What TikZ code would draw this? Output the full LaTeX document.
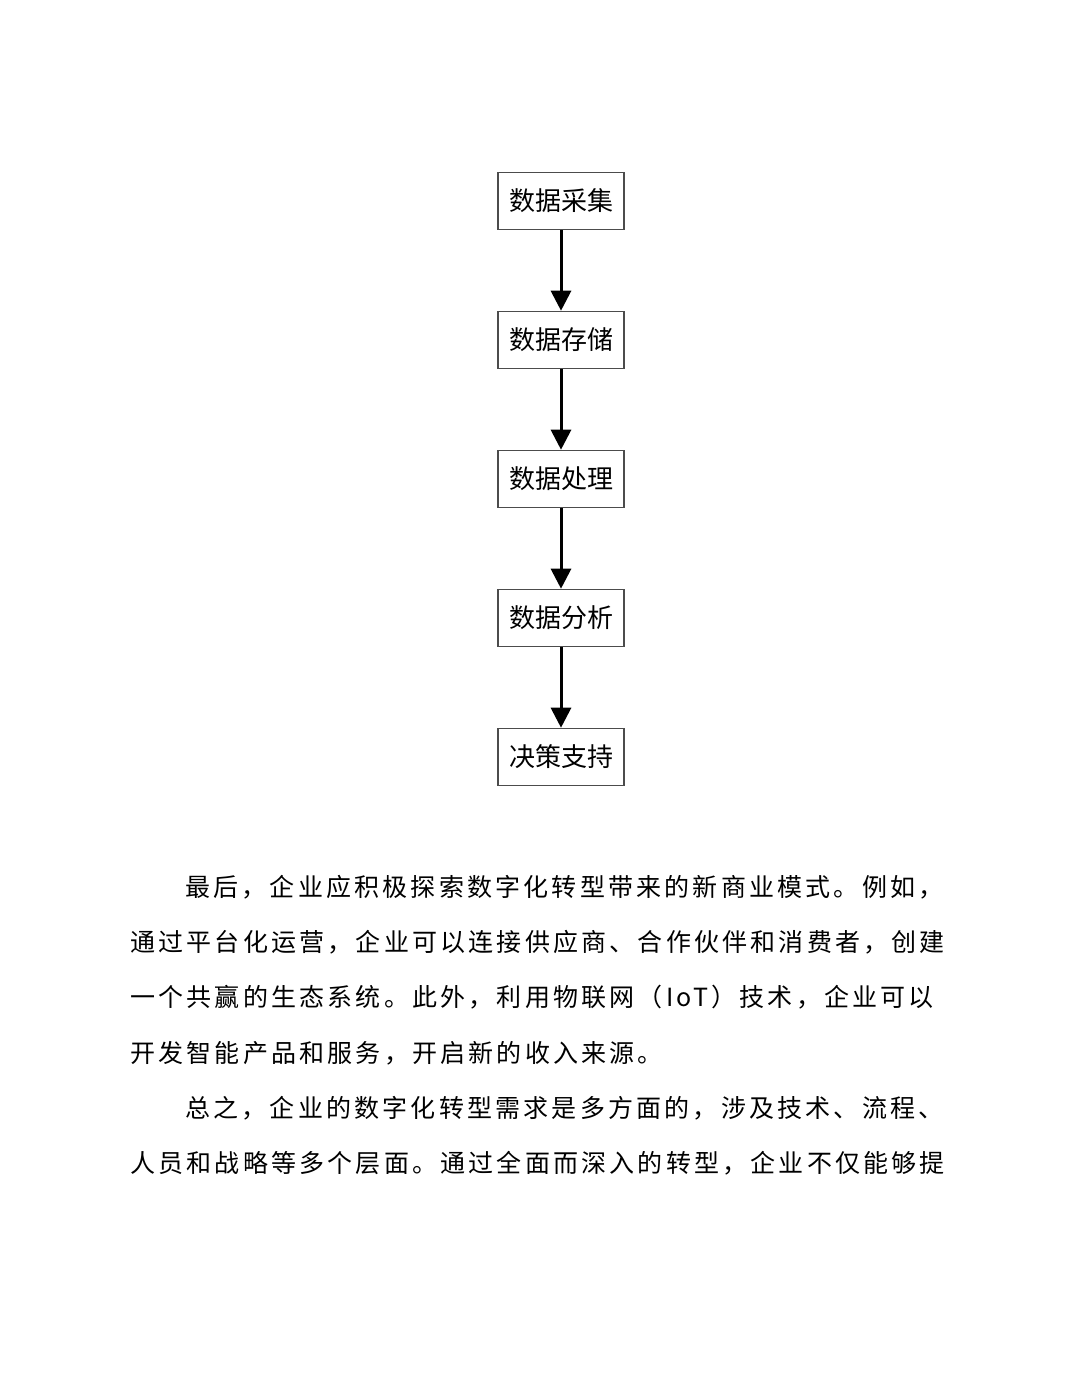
\documentclass[tikz,border=0pt]{standalone}
\usepackage{fontspec}
\newfontfamily\cjk{Noto Sans CJK SC}
\newfontfamily\cjkbody[LetterSpace=12.8]{Noto Sans CJK SC}
\usepackage{tikz}
\usetikzlibrary{positioning,arrows.meta}
\tikzset{stepbox/.style={draw=black!70,line width=1.6pt,fill=white,minimum width=126pt,minimum height=57pt,inner sep=0pt,font=\cjk\fontsize{26}{26}\selectfont}}
\tikzset{flow/.style={-{Triangle[width=20pt,length=20pt]},line width=3pt}}
\tikzset{para/.style={anchor=west,inner sep=0pt,font=\cjkbody\fontsize{25}{25}\selectfont}}

\begin{document}
\begin{tikzpicture}[x=1pt,y=-1pt,node distance=80.4pt]
  \useasboundingbox[fill=white] (0,0) rectangle (1080,1397);
  % flow chart
  \node[stepbox] (collect) at (561,201) {数据采集};
  \node[stepbox,below=of collect] (store) {数据存储};
  \node[stepbox,below=of store] (process) {数据处理};
  \node[stepbox,below=of process] (analyse) {数据分析};
  \node[stepbox,below=of analyse] (decide) {决策支持};
        \foreach \a/\b in {collect/store,store/process,process/analyse,analyse/decide}
          \draw[flow] (\a) -- (\b);
  % text below
  \node[para] (l1) at (185,887) {最后，企业应积极探索数字化转型带来的新商业模式。例如，};
  \node[para] (l2) at (130,942) {通过平台化运营，企业可以连接供应商、合作伙伴和消费者，创建};
  \node[para] (l3) at (130,997) {一个共赢的生态系统。此外，利用物联网（IoT）技术，企业可以};
  \node[para] (l4) at (130,1053) {开发智能产品和服务，开启新的收入来源。};
  \node[para] (l5) at (185,1108) {总之，企业的数字化转型需求是多方面的，涉及技术、流程、};
  \node[para] (l6) at (130,1163) {人员和战略等多个层面。通过全面而深入的转型，企业不仅能够提};
\end{tikzpicture}
\end{document}
